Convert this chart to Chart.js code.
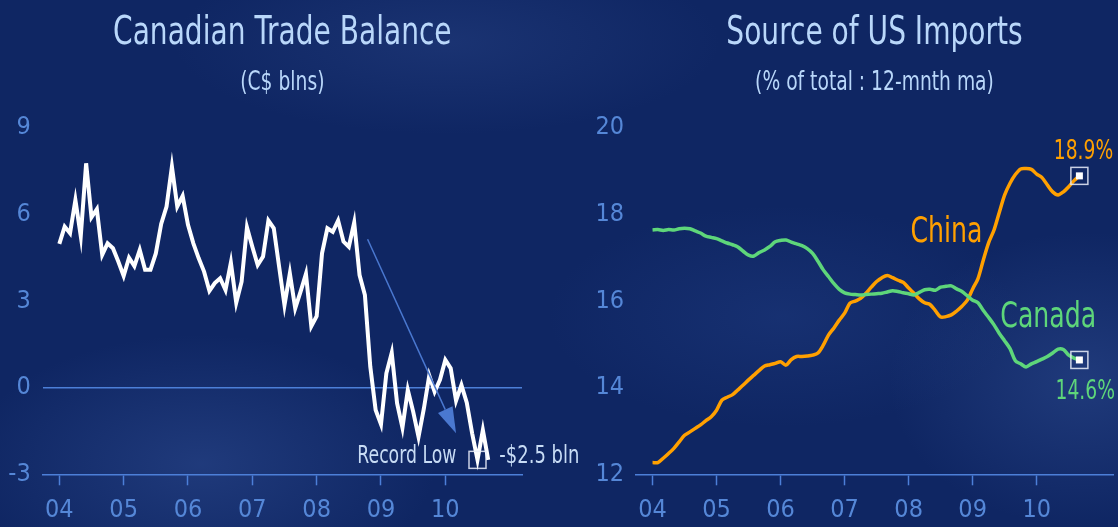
<!DOCTYPE html>
<html>
<head>
<meta charset="utf-8">
<script src="https://cdn.jsdelivr.net/npm/chart.js@4.4.1/dist/chart.umd.min.js"></script>
<style>
  html, body { margin: 0; padding: 0; }
  body {
    width: 1118px; height: 527px; overflow: hidden; position: relative;
    background:
      radial-gradient(ellipse 30% 35% at 18% 88%, rgba(70,105,180,0.30), transparent 70%),
      radial-gradient(ellipse 25% 40% at 97% 72%, rgba(70,105,180,0.30), transparent 70%),
      radial-gradient(ellipse 35% 25% at 40% 8%, rgba(60,90,160,0.25), transparent 70%),
      radial-gradient(ellipse 30% 30% at 70% 60%, rgba(50,85,165,0.22), transparent 70%),
      #0f2663;
  }
  .panel { position: absolute; top: 0; height: 527px; }
  #left { left: 0; width: 600px; }
  #right { left: 560px; width: 558px; }
</style>
</head>
<body>
<div class="panel" id="left"><canvas id="tradeChart" width="600" height="527"></canvas></div>
<div class="panel" id="right"><canvas id="importsChart" width="558" height="527"></canvas></div>
<script>
// --- Data (monthly, Jan 2004 = 0) ---
const yearLabels = ["04", "05", "06", "07", "08", "09", "10"];

// Canadian trade balance, C$ blns
const tradeBalance = [
  4.98, 5.58, 5.35, 6.5, 5.25, 7.77, 5.9, 6.18, 4.6, 5.0, 4.83, 4.37,
  3.87, 4.5, 4.21, 4.77, 4.08, 4.08, 4.65, 5.67, 6.27, 7.66, 6.27, 6.64,
  5.64, 5.0, 4.48, 4.02, 3.35, 3.62, 3.79, 3.38, 4.33, 2.94, 3.67, 5.55,
  4.88, 4.25, 4.54, 5.79, 5.52, 4.19, 2.86, 3.96, 2.75, 3.33, 3.94, 2.13,
  2.48, 4.65, 5.52, 5.4, 5.79, 5.06, 4.88, 5.72, 3.9, 3.21, 0.73, -0.77,
  -1.27, 0.5, 1.21, -0.54, -1.39, -0.08, -0.83, -1.7, -0.72, 0.42, -0.14, 0.27,
  0.96, 0.67, -0.45, 0.09, -0.52, -1.58, -2.5, -1.47, -2.5
];

// Share of US imports, % of total, 12-month moving average
const chinaShare = [
  12.27, 12.27, 12.37, 12.48, 12.6, 12.75, 12.9, 12.98, 13.06, 13.14, 13.24, 13.33,
  13.48, 13.71, 13.78, 13.84, 13.95, 14.06, 14.18, 14.29, 14.4, 14.5, 14.53, 14.56,
  14.6, 14.52, 14.65, 14.72, 14.72, 14.73, 14.75, 14.8, 14.98, 15.22, 15.38, 15.56,
  15.72, 15.95, 16.0, 16.06, 16.18, 16.32, 16.45, 16.54, 16.59, 16.54, 16.48, 16.43,
  16.3, 16.18, 16.05, 15.96, 15.92, 15.78, 15.63, 15.64, 15.68, 15.77, 15.88, 16.02,
  16.28, 16.52, 16.95, 17.35, 17.64, 18.05, 18.45, 18.72, 18.92, 19.05, 19.06, 19.04,
  18.93, 18.85, 18.68, 18.52, 18.45, 18.52, 18.64, 18.78, 18.89
];
const canadaShare = [
  17.64, 17.65, 17.63, 17.65, 17.64, 17.67, 17.68, 17.67, 17.62, 17.57, 17.5, 17.47,
  17.44, 17.39, 17.34, 17.3, 17.25, 17.15, 17.06, 17.04, 17.12, 17.18, 17.26, 17.37,
  17.4, 17.41, 17.36, 17.32, 17.28, 17.21, 17.1, 16.92, 16.72, 16.56, 16.4, 16.27,
  16.19, 16.16, 16.15, 16.14, 16.15, 16.16, 16.17, 16.18, 16.21, 16.24, 16.22, 16.19,
  16.17, 16.14, 16.2, 16.26, 16.27, 16.25, 16.32, 16.34, 16.35, 16.28, 16.22, 16.12,
  16.02, 15.96, 15.78, 15.62, 15.45, 15.25, 15.08, 14.9, 14.62, 14.55, 14.48, 14.55,
  14.6, 14.66, 14.72, 14.8, 14.89, 14.88, 14.75, 14.68, 14.64
];

// --- Styles ---
const FONT = '"Liberation Sans Narrow", "DejaVu Sans Condensed", "Roboto", sans-serif';
const SQUEEZE = 0.8; // narrow the condensed face a bit more
const AXIS_BLUE = "#4c7fd8";
const LABEL_BLUE = "#5587d7";
const TITLE_COLOR = "#b9d7fa";
const NOTE_COLOR = "#c8dcf5";
const ORANGE = "#ffa000";
const GREEN = "#5ed67a";

const toPoints = (arr) => arr.map((v, i) => ({ x: i, y: v }));

function narrowText(ctx, text, x, y) {
  const w = ctx.measureText(text).width;
  ctx.fillText(text, x, y, w * SQUEEZE);
}

// Titles + notes drawn on the canvas
const notesPlugin = {
  id: "notes",
  afterDatasetsDraw(chart, args, opts) {
    const { ctx, chartArea, scales } = chart;
    const x = scales.x, y = scales.y;
    ctx.save();

    // titles, centred on the plot area
    const cx = (chartArea.left + chartArea.right) / 2;
    ctx.textAlign = "center";
    ctx.textBaseline = "alphabetic";
    ctx.fillStyle = TITLE_COLOR;
    ctx.font = "39px " + FONT;
    narrowText(ctx, opts.title, cx, 44);
    ctx.font = "26px " + FONT;
    narrowText(ctx, opts.subtitle, cx, 90);

    // arrows
    (opts.arrows || []).forEach((a) => {
      const x0 = x.getPixelForValue(a.from[0]), y0 = y.getPixelForValue(a.from[1]);
      const x1 = x.getPixelForValue(a.to[0]), y1 = y.getPixelForValue(a.to[1]);
      const ang = Math.atan2(y1 - y0, x1 - x0);
      const len = 26, half = 8;
      const bx = x1 - len * Math.cos(ang), by = y1 - len * Math.sin(ang);
      ctx.strokeStyle = a.color;
      ctx.lineWidth = 1.5;
      ctx.beginPath();
      ctx.moveTo(x0, y0);
      ctx.lineTo(bx, by);
      ctx.stroke();
      ctx.fillStyle = a.color;
      ctx.beginPath();
      ctx.moveTo(x1, y1);
      ctx.lineTo(bx + half * Math.sin(ang), by - half * Math.cos(ang));
      ctx.lineTo(bx - half * Math.sin(ang), by + half * Math.cos(ang));
      ctx.closePath();
      ctx.fill();
    });

    // end-point boxes
    (opts.boxes || []).forEach((b) => {
      const px = x.getPixelForValue(b.x), py = y.getPixelForValue(b.y);
      const s = 17;
      ctx.strokeStyle = "rgba(235,240,252,0.85)";
      ctx.lineWidth = 1.5;
      ctx.strokeRect(px - s / 2, py - s / 2, s, s);
      if (b.dot) {
        ctx.fillStyle = "#ffffff";
        ctx.fillRect(px - 3.5, py - 3.5, 7, 7);
      }
    });

    // text notes
    (opts.texts || []).forEach((t) => {
      ctx.font = t.size + "px " + FONT;
      ctx.fillStyle = t.color;
      ctx.textAlign = t.align || "center";
      ctx.textBaseline = "alphabetic";
      narrowText(ctx, t.text, x.getPixelForValue(t.x), y.getPixelForValue(t.y));
    });

    ctx.restore();
  },
};

function makeOptions(cfg) {
  return {
    responsive: false,
    animation: false,
    layout: { padding: { left: 0, right: cfg.padRight, top: 127.8, bottom: 0 } },
    plugins: {
      legend: { display: false },
      tooltip: { enabled: false },
      notes: cfg.notes,
    },
    scales: {
      x: {
        type: "linear",
        min: -3.1,
        max: 86.3,
        afterBuildTicks: (scale) => {
          scale.ticks = yearLabels.map((_, i) => ({ value: i * 12 }));
        },
        afterFit: (scale) => { scale.height = 52.7; },
        ticks: {
          callback: (v) => yearLabels[Math.round(v / 12)],
          color: LABEL_BLUE,
          font: { family: FONT, size: 25 },
          padding: 10,
          maxRotation: 0,
          autoSkip: false,
        },
        grid: {
          drawOnChartArea: false,
          drawTicks: true,
          tickLength: 11,
          tickColor: AXIS_BLUE,
          tickWidth: 1.5,
        },
        border: { display: true, color: AXIS_BLUE, width: 1.5 },
      },
      y: {
        min: cfg.yMin,
        max: cfg.yMax,
        afterFit: (scale) => { scale.width = cfg.yWidth; },
        ticks: {
          stepSize: cfg.yStep,
          color: LABEL_BLUE,
          font: { family: FONT, size: 25 },
          padding: 12,
        },
        grid: {
          drawTicks: false,
          lineWidth: 1.5,
          color: (c) => (cfg.zeroLine && c.tick && c.tick.value === 0 ? AXIS_BLUE : "rgba(0,0,0,0)"),
        },
        border: { display: false },
      },
    },
  };
}

// --- Canadian trade balance ---
new Chart(document.getElementById("tradeChart"), {
  type: "line",
  data: {
    datasets: [
      {
        label: "Trade balance",
        data: toPoints(tradeBalance),
        borderColor: "#ffffff",
        borderWidth: 4,
        pointRadius: 0,
        tension: 0,
        borderJoinStyle: "miter",
      },
    ],
  },
  options: makeOptions({
    padRight: 78,
    yMin: -3, yMax: 9, yStep: 3, yWidth: 42.7, zeroLine: true,
    notes: {
      title: "Canadian Trade Balance",
      subtitle: "(C$ blns)",
      arrows: [{ from: [57.5, 5.14], to: [74.0, -1.58], color: "#4a78d0" }],
      boxes: [{ x: 78, y: tradeBalance[78], dot: false }],
      texts: [
        { text: "Record Low", x: 74.06, y: -2.61, size: 24, color: NOTE_COLOR, align: "right" },
        { text: "-$" + Math.abs(tradeBalance[78]).toFixed(1) + " bln", x: 82.07, y: -2.61, size: 25, color: NOTE_COLOR, align: "left" },
      ],
    },
  }),
  plugins: [notesPlugin],
});

// --- Source of US imports ---
const last = chinaShare.length - 1;
new Chart(document.getElementById("importsChart"), {
  type: "line",
  data: {
    datasets: [
      {
        label: "Canada",
        data: toPoints(canadaShare),
        borderColor: GREEN,
        borderWidth: 3.5,
        pointRadius: 0,
        tension: 0.3,
      },
      {
        label: "China",
        data: toPoints(chinaShare),
        borderColor: ORANGE,
        borderWidth: 3.5,
        pointRadius: 0,
        tension: 0.3,
      },
    ],
  },
  options: makeOptions({
    padRight: 5,
    yMin: 12, yMax: 20, yStep: 2, yWidth: 76, zeroLine: false,
    notes: {
      title: "Source of US Imports",
      subtitle: "(% of total : 12-mnth ma)",
      boxes: [
        { x: last, y: chinaShare[last], dot: true },
        { x: last, y: canadaShare[last], dot: true },
      ],
      texts: [
        { text: "China", x: 55.07, y: 17.37, size: 35, color: ORANGE },
        { text: "Canada", x: 74.16, y: 15.41, size: 35, color: GREEN },
        { text: chinaShare[last].toFixed(1) + "%", x: 80.77, y: 19.27, size: 26, color: ORANGE },
        { text: canadaShare[last].toFixed(1) + "%", x: 81.1, y: 13.75, size: 26, color: GREEN },
      ],
    },
  }),
  plugins: [notesPlugin],
});
</script>
</body>
</html>
